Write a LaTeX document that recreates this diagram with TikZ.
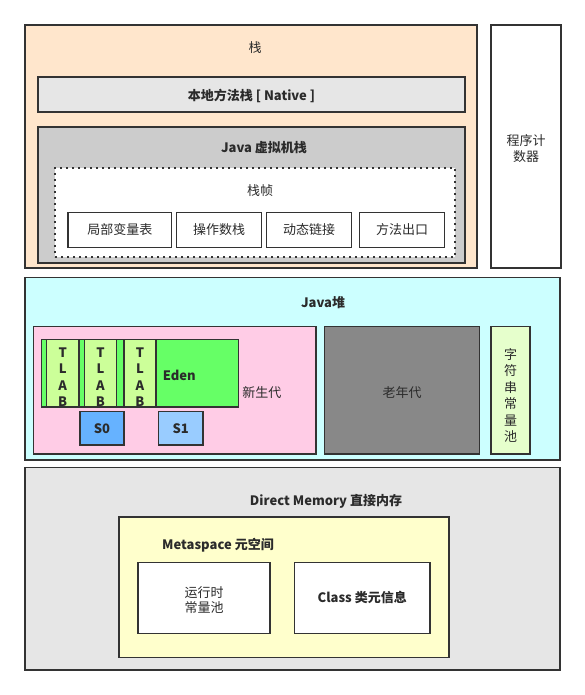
\documentclass[tikz,border=0pt]{standalone}
\usepackage{fontspec}
\setmainfont{Noto Sans CJK SC}
\usetikzlibrary{fit}

\definecolor{edge}{HTML}{333333}
\definecolor{ink}{HTML}{2B2B2B}
\definecolor{stackbg}{HTML}{FFE6CC}
\definecolor{nativebg}{HTML}{E6E6E6}
\definecolor{jvmbg}{HTML}{CCCCCC}
\definecolor{heapbg}{HTML}{CCFFFF}
\definecolor{youngbg}{HTML}{FFCCE6}
\definecolor{edenbg}{HTML}{66FF66}
\definecolor{tlabbg}{HTML}{CCFF99}
\definecolor{szerobg}{HTML}{66B2FF}
\definecolor{sonebg}{HTML}{99CCFF}
\definecolor{oldbg}{HTML}{888888}
\definecolor{poolbg}{HTML}{E6FFCC}
\definecolor{directbg}{HTML}{E6E6E6}
\definecolor{metabg}{HTML}{FFFFCC}

\tikzset{
  blk/.style={draw=edge, line width=1.6pt, inner sep=0pt},
  titled/.style={inner sep=0pt, font=\fontsize{13}{15.5}\selectfont\bfseries},
  plain/.style={inner sep=0pt},
  tall/.style={align=center, font=\fontsize{13}{16.5}\selectfont},
}

\begin{document}
\begin{tikzpicture}[x=1pt, y=-1pt, font=\fontsize{13}{15.5}\selectfont, text=ink]
        \useasboundingbox (0,0) rectangle (585,695);

        \node[blk, fill=stackbg, fit={(25,25) (477,268)}] (stack) {};
        \node[plain] (stackT) at (255,48) {栈};
        \node[blk, fill=white, fit={(491,25) (561,268)}, label={[align=center, yshift=-2pt]center:程序计\\数器}] (pc) {};
        \node[blk, fill=nativebg, fit={(38,77) (465,112)}, label={[yshift=-1pt, font=\fontsize{13}{15.5}\selectfont\bfseries]center:{本地方法栈 [ Native ]}}] (native) {};
        \node[blk, fill=jvmbg, fit={(38,127) (465,263)}] (jvm) {};
        \node[titled] (jvmT) at (264,148) {Java 虚拟机栈};
        \node[blk, fill=white, dash pattern=on 2pt off 4pt, fit={(55,168) (455,257)}] (frame) {};
        \node[plain] (frameT) at (260,190.5) {栈帧};
        \node[blk, fill=white, fit={(68,212.5) (171.5,247.5)}, label=center:局部变量表] (locals) {};
        \node[blk, fill=white, fit={(176.5,212.5) (261.5,247.5)}, label=center:操作数栈] (operand) {};
        \node[blk, fill=white, fit={(266.5,212.5) (351.5,247.5)}, label=center:动态链接] (dynlink) {};
        \node[blk, fill=white, fit={(359.5,212.5) (444.5,247.5)}, label=center:方法出口] (retaddr) {};

        \node[blk, fill=heapbg, fit={(25,277.5) (560,460)}] (heap) {};
        \node[titled] (heapT) at (323,302.5) {Java堆};
        \node[blk, fill=youngbg, fit={(33.5,326.5) (316,454)}, label={[xshift=87pt, yshift=-2pt]center:新生代}] (young) {};
        \node[blk, fill=edenbg, fit={(41.5,339.5) (238.5,407)}] (tlabs) {};
        \node[blk, fill=tlabbg, fit={(46.5,339.5) (79,407)}, label={[tall, yshift=-4pt, font=\fontsize{13}{16.3}\selectfont\bfseries]center:T\\L\\A\\B}] (tlabA) {};
        \node[blk, fill=tlabbg, fit={(84.5,339.5) (116.5,407)}, label={[tall, yshift=-4pt, font=\fontsize{13}{16.3}\selectfont\bfseries]center:T\\L\\A\\B}] (tlabB) {};
        \node[blk, fill=tlabbg, fit={(124,339.5) (156,407)}, label={[tall, yshift=-4pt, font=\fontsize{13}{16.3}\selectfont\bfseries]center:T\\L\\A\\B}] (tlabC) {};
        \node[blk, fill=edenbg, fit={(156,339.5) (238.5,407)}, label={[xshift=-18pt, yshift=-2pt, font=\fontsize{13}{15.5}\selectfont\bfseries]center:Eden}] (eden) {};
        \node[blk, fill=szerobg, fit={(80,411.5) (124,445)}, label={[font=\fontsize{13}{15.5}\selectfont\bfseries]center:S0}] (szero) {};
        \node[blk, fill=sonebg, fit={(158.5,411.5) (203,445)}, label={[font=\fontsize{13}{15.5}\selectfont\bfseries]center:S1}] (sone) {};
        \node[blk, fill=oldbg, fit={(324.5,326.5) (479.5,454)}, label={[yshift=-2pt]center:老年代}] (old) {};
        \node[blk, fill=poolbg, fit={(491,326.5) (530,454)}, label={[tall, yshift=-5pt]center:字\\符\\串\\常\\量\\池}] (spool) {};

        \node[blk, fill=directbg, fit={(25,467.5) (560,670)}] (direct) {};
        \node[titled] (directT) at (326,501.5) {Direct Memory 直接内存};
        \node[blk, fill=metabg, fit={(119,517) (449,657.5)}] (meta) {};
        \node[titled] (metaT) at (218,545) {Metaspace 元空间};
        \node[blk, fill=white, fit={(138,562.5) (270,633.5)}, label={[align=center, yshift=-2pt]center:运行时\\常量池}] (rtpool) {};
        \node[blk, fill=white, fit={(294.5,562.5) (430,633.5)}, label={[font=\fontsize{13}{15.5}\selectfont\bfseries]center:Class 类元信息}] (klass) {};
    \end{tikzpicture}
\end{document}
